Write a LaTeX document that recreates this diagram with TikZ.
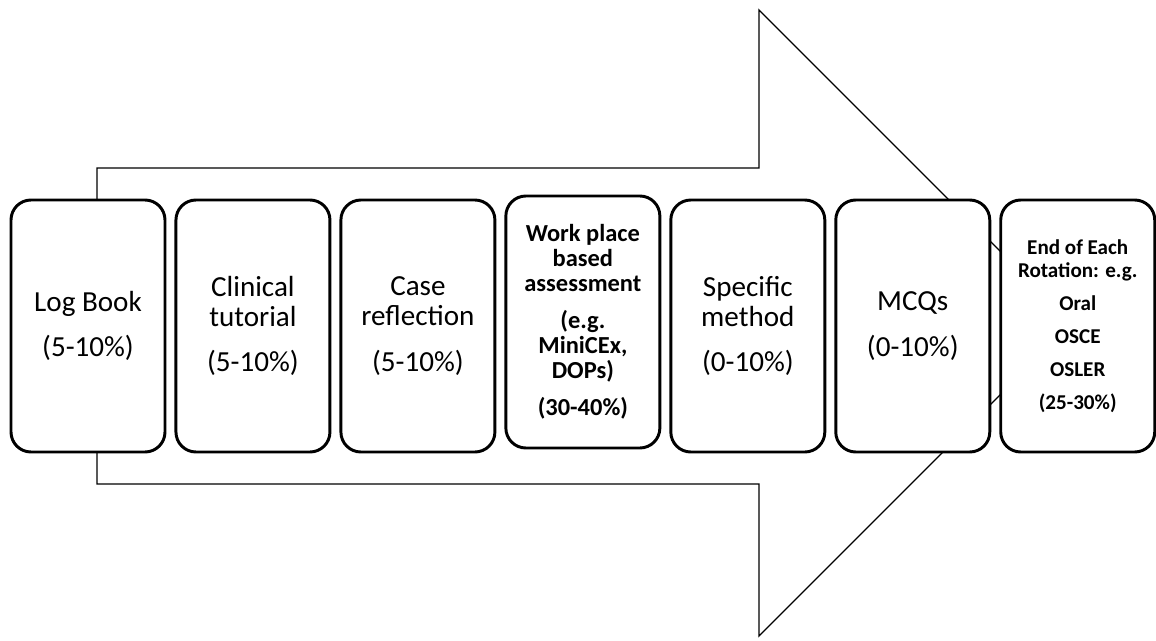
\documentclass[tikz,border=0pt]{standalone}
\usepackage{fontspec}
\setmainfont{Carlito}
\usetikzlibrary{positioning}

\begin{document}
\begin{tikzpicture}[
  node distance=0.2cm,
  every node/.style={font=\fontsize{20.7}{21.6}\selectfont},
  stage/.style={draw, line width=2.1pt, rounded corners=0.5cm, align=center, minimum width=3.85cm, minimum height=6.3cm, fill=white, inner sep=2pt},
  stagebold/.style={stage, font=\bfseries\fontsize{17.4}{17.8}\selectfont},
  stagesmall/.style={stage, font=\bfseries\fontsize{15}{16.4}\selectfont},
  bigarrow/.style={draw, line width=0.95pt, line join=miter}
]
\useasboundingbox (0,0) rectangle (28.9,-16.025);
% background arrow
\draw[bigarrow] (2.425,-4.2) -- (18.975,-4.2) -- (18.975,-0.25) -- (26.8,-8.075)
  -- (18.975,-15.9) -- (18.975,-12.1) -- (2.425,-12.1) -- cycle;

\node[stage] (logbook) at (2.2,-8.15) {Log Book\\[0.375cm](5-10\%)};
\node[stage, right=of logbook] (tutorial) {Clinical\\tutorial\\[0.375cm](5-10\%)};
\node[stage, right=of tutorial] (reflection) {Case\\reflection\\[0.375cm](5-10\%)};
\node[stagebold, right=of reflection, yshift=0.1cm] (wpba) {Work place\\based\\assessment\\[0.3cm](e.g.\\MiniCEx,\\DOPs)\\[0.3cm](30-40\%)};
\node[stage, right=of reflection, xshift=3.924cm+0.2cm] (specific) {Specific\\method\\[0.375cm](0-10\%)};
\node[stage, right=of specific] (mcqs) {MCQs\\[0.375cm](0-10\%)};
\node[stagesmall, right=of mcqs] (rotation) {End of Each\\Rotation: e.g.\\[0.25cm]Oral\\[0.25cm]OSCE\\[0.25cm]OSLER\\[0.25cm](25-30\%)};
\end{tikzpicture}
\end{document}
